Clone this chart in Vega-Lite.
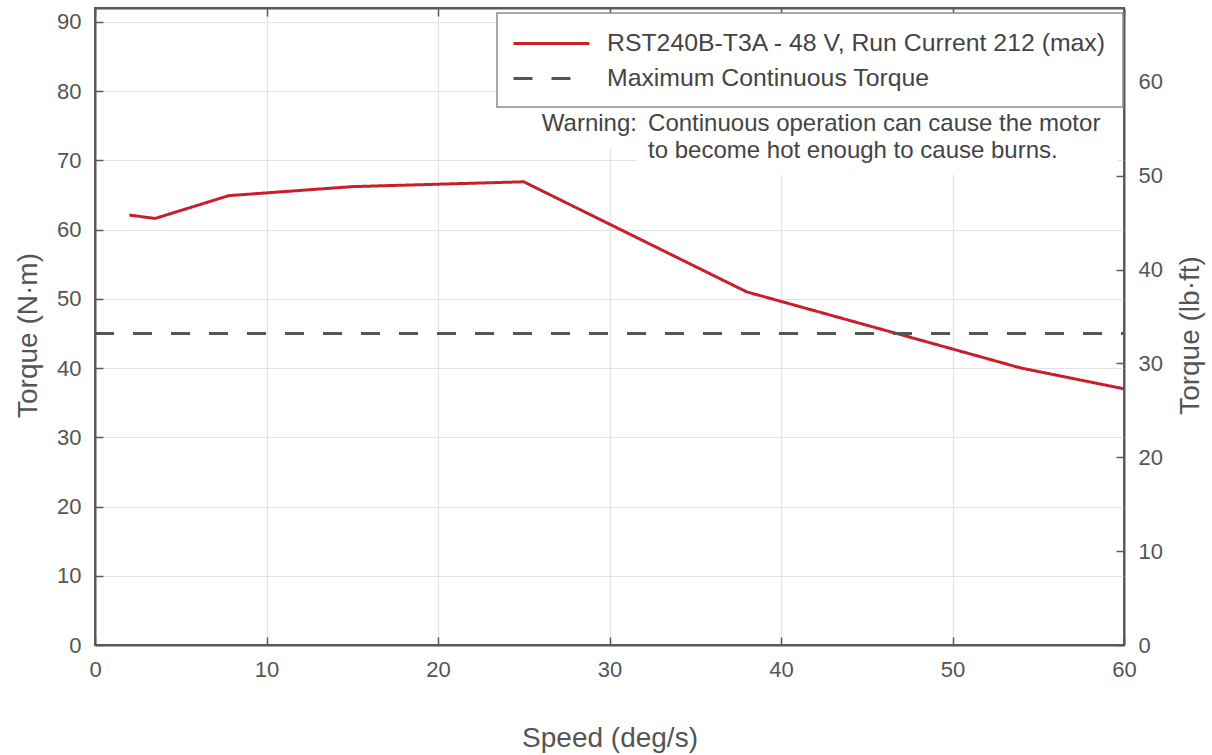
{
  "$schema": "https://vega.github.io/schema/vega-lite/v6.json",
  "width": 1029,
  "height": 637,
  "autosize": {"type": "none"},
  "padding": {"left": 95, "top": 8, "right": 88, "bottom": 110},
  "background": "white",
  "config": {
    "font": "Liberation Sans",
    "view": {"stroke": "#595959", "strokeWidth": 2},
    "axis": {
      "domainColor": "#595959",
      "domainWidth": 2,
      "tickColor": "#595959",
      "tickWidth": 1.5,
      "tickSize": -8,
      "labelPadding": 22,
      "labelFont": "Liberation Sans",
      "labelFontSize": 22,
      "labelColor": "#555555",
      "labelFlush": false,
      "labelOverlap": false,
      "titleFont": "Liberation Sans",
      "titleFontSize": 28,
      "titleFontWeight": "normal",
      "titleColor": "#555555",
      "gridColor": "#e3e3e3",
      "gridWidth": 1.2
    },
    "legend": {
      "strokeColor": "#8c8c8c",
      "strokeWidth": 1.5,
      "fillColor": "white",
      "padding": 16,
      "symbolType": "M-3,0H3",
      "symbolSize": 642,
      "symbolOffset": 24,
      "symbolStrokeWidth": 3,
      "labelFont": "Liberation Sans",
      "labelFontSize": 24.8,
      "labelColor": "#444444",
      "labelOffset": 41,
      "labelLimit": 0,
      "rowPadding": 8
    }
  },
  "datasets": {
    "curves": [
      {"speed": 2, "torque": 62.1, "series": "RST240B-T3A - 48 V, Run Current 212 (max)"},
      {"speed": 3.5, "torque": 61.6, "series": "RST240B-T3A - 48 V, Run Current 212 (max)"},
      {"speed": 7.8, "torque": 64.9, "series": "RST240B-T3A - 48 V, Run Current 212 (max)"},
      {"speed": 15, "torque": 66.2, "series": "RST240B-T3A - 48 V, Run Current 212 (max)"},
      {"speed": 25, "torque": 66.9, "series": "RST240B-T3A - 48 V, Run Current 212 (max)"},
      {"speed": 38, "torque": 51.0, "series": "RST240B-T3A - 48 V, Run Current 212 (max)"},
      {"speed": 54, "torque": 40.0, "series": "RST240B-T3A - 48 V, Run Current 212 (max)"},
      {"speed": 60, "torque": 37.0, "series": "RST240B-T3A - 48 V, Run Current 212 (max)"},
      {"speed": 0, "torque": 45, "series": "Maximum Continuous Torque"},
      {"speed": 60, "torque": 45, "series": "Maximum Continuous Torque"}
    ]
  },
  "layer": [
    {
      "layer": [
        {
          "data": {"values": [{}]},
          "mark": {"type": "rect", "fill": "white"},
          "encoding": {
            "x": {"datum": 26.0, "type": "quantitative"},
            "x2": {"datum": 59.65},
            "y": {"datum": 77.9, "type": "quantitative"},
            "y2": {"datum": 71.8}
          }
        },
        {
          "data": {"values": [{}]},
          "mark": {"type": "rect", "fill": "white"},
          "encoding": {
            "x": {"datum": 31.6, "type": "quantitative"},
            "x2": {"datum": 59.65},
            "y": {"datum": 77.9, "type": "quantitative"},
            "y2": {"datum": 67.9}
          }
        },
        {
          "data": {"name": "curves"},
          "mark": {"type": "line", "strokeWidth": 3},
          "encoding": {
            "x": {
              "field": "speed",
              "type": "quantitative",
              "scale": {"domain": [0, 60], "nice": false},
              "axis": {
                "values": [0, 10, 20, 30, 40, 50, 60],
                "title": "Speed (deg/s)",
                "titleY": 93,
                "titleBaseline": "middle",
                "grid": true
              }
            },
            "y": {
              "field": "torque",
              "type": "quantitative",
              "scale": {"domain": [0, 92], "nice": false},
              "axis": {
                "values": [0, 10, 20, 30, 40, 50, 60, 70, 80, 90],
                "title": "Torque (N·m)",
                "titleAngle": -90,
                "titleX": -67,
                "titleY": 327,
                "titleAlign": "center",
                "titleBaseline": "middle",
                "grid": true
              }
            },
            "color": {
              "field": "series",
              "type": "nominal",
              "scale": {
                "domain": ["RST240B-T3A - 48 V, Run Current 212 (max)", "Maximum Continuous Torque"],
                "range": ["#C8202A", "#555555"]
              },
              "legend": {"title": null, "orient": "none", "legendX": 402, "legendY": 5}
            },
            "strokeDash": {
              "field": "series",
              "type": "nominal",
              "scale": {
                "domain": ["RST240B-T3A - 48 V, Run Current 212 (max)", "Maximum Continuous Torque"],
                "range": [[1, 0], [19, 19]]
              },
              "legend": {"title": null, "orient": "none", "legendX": 402, "legendY": 5}
            }
          }
        },
        {
          "data": {"values": [{}]},
          "mark": {"type": "text", "text": "Warning:", "align": "right", "baseline": "middle", "fontSize": 24, "color": "#444444", "font": "Liberation Sans"},
          "encoding": {
            "x": {"datum": 31.6, "type": "quantitative"},
            "y": {"datum": 75.2, "type": "quantitative"}
          }
        },
        {
          "data": {"values": [{}]},
          "mark": {"type": "text", "text": ["Continuous operation can cause the motor", "to become hot enough to cause burns."], "align": "left", "baseline": "middle", "lineHeight": 27, "fontSize": 24, "color": "#444444", "font": "Liberation Sans"},
          "encoding": {
            "x": {"datum": 32.25, "type": "quantitative"},
            "y": {"datum": 75.2, "type": "quantitative"}
          }
        }
      ]
    },
    {
      "data": {"values": [{}]},
      "mark": {"type": "point", "opacity": 0},
      "encoding": {
        "x": {
          "datum": 0,
          "type": "quantitative",
          "scale": {"domain": [0, 60], "nice": false},
          "axis": {"orient": "top", "values": [0, 10, 20, 30, 40, 50, 60], "labels": false, "title": null, "grid": false}
        },
        "y": {
          "datum": 0,
          "type": "quantitative",
          "scale": {"domain": [0, 67.86], "nice": false},
          "axis": {
            "orient": "right",
            "values": [0, 10, 20, 30, 40, 50, 60],
            "title": "Torque (lb·ft)",
            "titleAngle": -90,
            "titleX": 66,
            "titleY": 327,
            "titleAlign": "center",
            "titleBaseline": "middle",
            "grid": false
          }
        }
      }
    }
  ],
  "resolve": {"scale": {"y": "independent"}, "axis": {"x": "independent"}}
}
